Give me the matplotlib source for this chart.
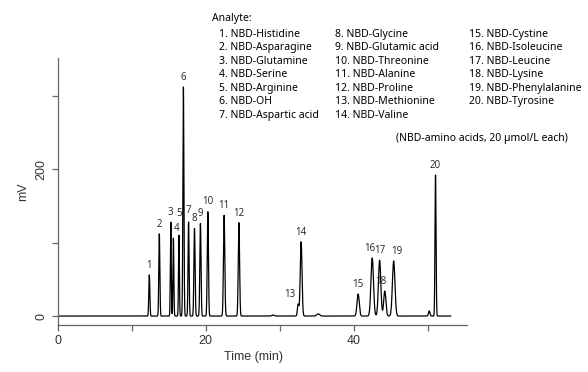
import numpy as np
import matplotlib.pyplot as plt

# peak table: retention time (min), height (mV), width (sigma, min)
peak_ids = list(range(1, 21))
rt = [12.4, 13.75, 15.3, 15.65, 16.4, 17.0, 17.7, 18.5, 19.3, 20.3,
      22.5, 24.5, 32.5, 32.9, 40.6, 42.5, 43.5, 44.2, 45.4, 51.05]
height = [56, 112, 128, 106, 110, 312, 128, 119, 126, 142,
          137, 127, 16, 101, 30, 79, 76, 34, 75, 192]
sigma = [0.07, 0.07, 0.06, 0.06, 0.06, 0.07, 0.07, 0.08, 0.08, 0.08,
         0.09, 0.09, 0.1, 0.12, 0.15, 0.17, 0.16, 0.15, 0.17, 0.07]
# small unlabeled bumps
bump_rt = [29.1, 35.2, 50.2]
bump_h = [1.5, 3, 7]
bump_s = [0.15, 0.2, 0.1]

analytes = ["NBD-Histidine", "NBD-Asparagine", "NBD-Glutamine", "NBD-Serine",
            "NBD-Arginine", "NBD-OH", "NBD-Aspartic acid", "NBD-Glycine",
            "NBD-Glutamic acid", "NBD-Threonine", "NBD-Alanine", "NBD-Proline",
            "NBD-Methionine", "NBD-Valine", "NBD-Cystine", "NBD-Isoleucine",
            "NBD-Leucine", "NBD-Lysine", "NBD-Phenylalanine", "NBD-Tyrosine"]

t = np.linspace(0, 53.1, 6000)
y = np.zeros_like(t)
for r, h, s in zip(rt + bump_rt, height + bump_h, sigma + bump_s):
    y += h * np.exp(-0.5 * ((t - r) / s) ** 2)

plt.rcParams['font.family'] = ['Liberation Sans', 'DejaVu Sans']
fig = plt.figure(figsize=(5.88, 3.72), dpi=100)
ax = fig.add_axes([0.0978, 0.1263, 0.6964, 0.7177])
ax.plot(t, y, color='black', lw=0.9)
ax.set_xlim(0, 55.3)
ax.set_ylim(-12.2, 351)

for side in ['top', 'right']:
    ax.spines[side].set_visible(False)
for side in ['left', 'bottom']:
    ax.spines[side].set_color('#666666')
    ax.spines[side].set_linewidth(0.9)

ax.set_xticks(np.arange(0, 51, 10))
ax.set_xticklabels(['0', '', '20', '', '40', ''])
ax.set_yticks([0, 100, 200, 300])
ax.set_yticklabels(['0', '', '200', ''], rotation=90, va='center')
ax.tick_params(direction='out', length=4, width=0.9, color='#666666',
               labelsize=9, labelcolor='#333333')
ax.set_xlabel('Time (min)', fontsize=9, color='#333333', va='center')
ax.set_ylabel('mV', fontsize=9, color='#333333', labelpad=4)
ax.xaxis.set_label_coords(0.478, -0.12)

# label nudges in points (dx, dy)
nudge = {4: (2, 3), 5: (0, 12), 7: (0, 4), 13: (-6, 3), 16: (-2, 3),
         18: (-3, 3), 19: (2, 3)}
for i, r, h in zip(peak_ids, rt, height):
    ax.annotate(str(i), (r, h), xytext=nudge.get(i, (0, 3)),
                textcoords='offset points', ha='center', va='bottom',
                fontsize=7, color='#222222', family=['Open Sans', 'DejaVu Sans'])

lf = ['Noto Sans', 'DejaVu Sans']
fig.text(211.7 / 588, 1 - 18.3 / 372, 'Analyte:', fontsize=7.5, fontweight='bold',
         va='center', family=lf)
col_x = [219, 335, 469.3]
for k, name in enumerate(analytes):
    col = 0 if k < 7 else (1 if k < 14 else 2)
    row = k - [0, 7, 14][col]
    fig.text(col_x[col] / 588, 1 - (34.3 + row * 13.5) / 372, f'{k + 1}. {name}',
             fontsize=7.5, va='center', family=lf)
fig.text(481.7 / 588, 1 - 138.3 / 372, '(NBD-amino acids, 20 µmol/L each)',
         fontsize=7.5, ha='center', va='center', family=lf)

fig.savefig('out.png', dpi=100)
